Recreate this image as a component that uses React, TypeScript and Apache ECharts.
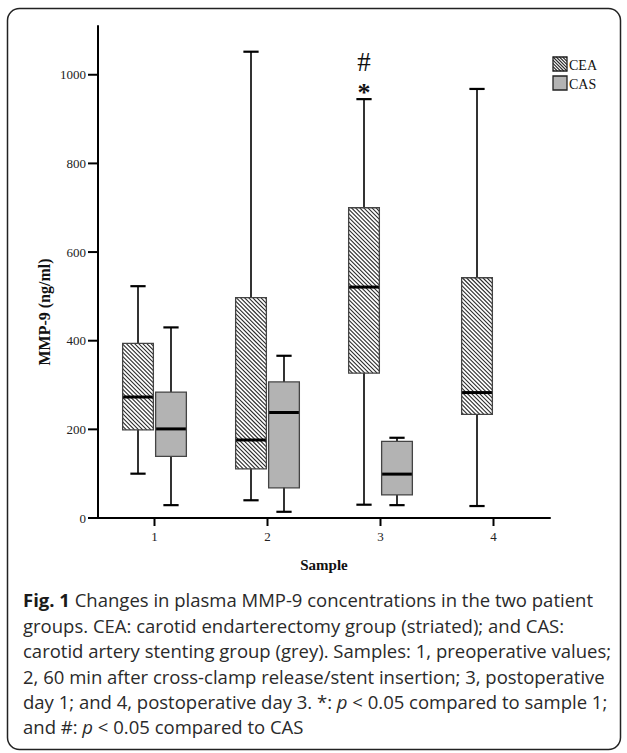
import React, { useEffect, useRef } from "react";
import * as echarts from "echarts";

// ---- data ----
const categories = ["1", "2", "3", "4"];
// each box: [lower whisker, Q1, median, Q3, upper whisker]
const ceaBoxes = [
  [100, 199, 273, 394, 523],
  [40, 111, 176, 497, 1052],
  [30, 327, 521, 700, 945],
  [27, 234, 283, 542, 968],
];
const casBoxes = [
  [29, 139, 201, 284, 430],
  [14, 68, 238, 307, 366],
  [29, 52, 99, 173, 181],
];
const yTicks = [0, 200, 400, 600, 800, 1000];
const yMax = 1110;
const legendNames = ["CEA", "CAS"];
const annotationCategory = [2, 2];
const annotationValue = [945, 945];
const annotationText = ["*", "#"];
const yAxisName = "MMP-9 (ng/ml)";
const xAxisName = "Sample";
const captionLines = [
  "{b|Fig. 1} Changes in plasma MMP-9 concentrations in the two patient",
  "groups. CEA: carotid endarterectomy group (striated); and CAS:",
  "carotid artery stenting group (grey). Samples: 1, preoperative values;",
  "2, 60 min after cross-clamp release/stent insertion; 3, postoperative",
  "day 1; and 4, postoperative day 3. *: {i|p} < 0.05 compared to sample 1;",
  "and #: {i|p} < 0.05 compared to CAS",
];

// ---- styles ----
const SERIF = "'Liberation Serif', 'Times New Roman', serif";
const SANS = "'Open Sans', 'Noto Sans', sans-serif";
const BOX_W = 0.272;
const CAP_W = 0.135;
const OFF = 0.146;
const HATCH_STEP = 4.1;
const GREY = "#b3b3b3";
const EDGE = "#444";
const CAPTION_SIZE = 18.5;
const CAPTION_LH = 25.4;
const Y_TICK_LEN = 10;
const X_TICK_LEN = 8;
const AXIS_W = 2;

function hatchLines(x0: number, y0: number, x1: number, y1: number, step: number) {
  const out: any[] = [];
  const cStart = Math.ceil((y0 - x1) / step) * step;
  for (let c = cStart; c <= y1 - x0; c += step) {
    const xa = Math.max(x0, y0 - c);
    const xb = Math.min(x1, y1 - c);
    if (xb - xa < 0.4) continue;
    out.push({
      type: "line",
      shape: { x1: xa, y1: xa + c, x2: xb, y2: xb + c },
      style: { stroke: "#2a2a2a", lineWidth: 1.1 },
      silent: true,
    });
  }
  return out;
}

function boxRenderer(side: number, hatched: boolean) {
  return (params: any, api: any) => {
    const cat = api.value(0);
    const vals = [1, 2, 3, 4, 5].map((i) => api.value(i));
    const band = api.size([1, 0])[0];
    const cx = api.coord([cat, 0])[0] + side * band * OFF;
    const [yLow, yQ1, yMed, yQ3, yHigh] = vals.map((v) => api.coord([cat, v])[1]);
    const w = band * BOX_W;
    const cw = band * CAP_W;
    const x0 = cx - w / 2;
    const x1 = cx + w / 2;
    const children: any[] = [
      { type: "line", shape: { x1: cx, y1: yHigh, x2: cx, y2: yLow }, style: { stroke: "#000", lineWidth: 1.6 } },
      { type: "rect", shape: { x: x0, y: yQ3, width: w, height: yQ1 - yQ3 }, style: { fill: hatched ? "#fff" : GREY } },
    ];
    if (hatched) children.push(...hatchLines(x0, yQ3, x1, yQ1, HATCH_STEP));
    children.push(
      { type: "rect", shape: { x: x0, y: yQ3, width: w, height: yQ1 - yQ3 }, style: { fill: "none", stroke: EDGE, lineWidth: 1.3 } },
      { type: "line", shape: { x1: x0 + 0.5, y1: yMed, x2: x1 - 0.5, y2: yMed }, style: { stroke: "#000", lineWidth: 3 } },
      { type: "line", shape: { x1: cx - cw / 2, y1: yHigh, x2: cx + cw / 2, y2: yHigh }, style: { stroke: "#000", lineWidth: 2.2 } },
      { type: "line", shape: { x1: cx - cw / 2, y1: yLow, x2: cx + cw / 2, y2: yLow }, style: { stroke: "#000", lineWidth: 2.2 } }
    );
    return { type: "group", children };
  };
}

function annotationRenderer(params: any, api: any) {
  const i = params.dataIndex;
  const band = api.size([1, 0])[0];
  const p = api.coord([api.value(0), api.value(1)]);
  const x = p[0] - band * OFF;
  const isStar = annotationText[i] === "*";
  return {
    type: "text",
    x,
    y: isStar ? p[1] + 6 : p[1] - 24,
    style: {
      text: annotationText[i],
      align: "center",
      verticalAlign: "bottom",
      font: isStar ? `bold 26px ${SERIF}` : `27px ${SERIF}`,
      fill: "#111",
    },
  };
}

function legendGraphic() {
  const x = 553;
  const y0 = 57;
  const size = 14;
  const gap = 19;
  const children: any[] = [];
  legendNames.forEach((name, i) => {
    const y = y0 + i * gap;
    children.push({ type: "rect", shape: { x, y, width: size, height: size }, style: { fill: i === 0 ? "#fff" : GREY } });
    if (i === 0) children.push(...hatchLines(x, y, x + size, y + size, 3.2));
    children.push({ type: "rect", shape: { x, y, width: size, height: size }, style: { fill: "none", stroke: "#222", lineWidth: 1.3 } });
    children.push({
      type: "text",
      x: x + size + 2,
      y: y + size / 2 + 1,
      style: { text: name, font: `14px ${SERIF}`, fill: "#111", verticalAlign: "middle", align: "left" },
    });
  });
  return { type: "group", children };
}

export default function App() {
  const ref = useRef<HTMLDivElement>(null);

  useEffect(() => {
    const el = ref.current;
    if (!el) return;
    const chart = echarts.init(el, null, { renderer: "svg" });
    const baseGraphic: any[] = [
      {
        type: "rect",
        shape: { x: 7.5, y: 8.5, width: 613, height: 741, r: 12 },
        style: { fill: "none", stroke: "#222", lineWidth: 1.5 },
        z: 0,
      },
      legendGraphic(),
      {
        type: "text",
        x: 44,
        y: 312,
        rotation: Math.PI / 2,
        style: {
          text: yAxisName,
          font: `bold 16px ${SERIF}`,
          fill: "#111",
          align: "center",
          verticalAlign: "middle",
        },
      },
      {
        type: "text",
        x: 23,
        y: 600 - CAPTION_LH / 2,
        style: {
          text: captionLines.join("\n"),
          font: `${CAPTION_SIZE}px ${SANS}`,
          fill: "#2a2a2a",
          lineHeight: CAPTION_LH,
          rich: {
            b: { fontWeight: "bold", fontSize: CAPTION_SIZE, fontFamily: SANS, fill: "#1a1a1a", lineHeight: CAPTION_LH },
            i: { fontStyle: "italic", fontSize: CAPTION_SIZE, fontFamily: SANS, fill: "#2a2a2a", lineHeight: CAPTION_LH },
          },
        },
      },
    ];
    const option: any = {
      animation: false,
      backgroundColor: "#fff",
      grid: { left: 98, right: 77, top: 26, bottom: 235, containLabel: false },
      xAxis: {
        type: "category",
        data: categories,
        boundaryGap: true,
        name: xAxisName,
        nameLocation: "middle",
        nameGap: 39,
        nameTextStyle: { fontFamily: SERIF, fontWeight: "bold", fontSize: 15, color: "#111" },
        axisLine: { show: true, lineStyle: { color: "#000", width: AXIS_W } },
        axisTick: { show: false },
        axisLabel: { show: true, fontFamily: SERIF, fontSize: 13, color: "#222", margin: 12 },
        splitLine: { show: false },
      },
      yAxis: {
        type: "value",
        min: 0,
        max: yMax,
        axisLine: { show: true, lineStyle: { color: "#000", width: AXIS_W } },
        axisTick: { show: false },
        axisLabel: {
          show: true,
          fontFamily: SERIF,
          fontSize: 13,
          color: "#222",
          margin: 12,
          customValues: yTicks,
          formatter: (v: number) => String(v),
        },
        splitLine: { show: false },
      },
      series: [
        {
          type: "custom",
          name: "CEA",
          clip: false,
          renderItem: boxRenderer(-1, true),
          encode: { x: 0, y: [1, 2, 3, 4, 5] },
          data: ceaBoxes.map((b, i) => [i, ...b]),
        },
        {
          type: "custom",
          name: "CAS",
          clip: false,
          renderItem: boxRenderer(1, false),
          encode: { x: 0, y: [1, 2, 3, 4, 5] },
          data: casBoxes.map((b, i) => [i, ...b]),
        },
        {
          type: "custom",
          name: "annotations",
          clip: false,
          renderItem: annotationRenderer,
          encode: { x: 0, y: 1 },
          data: annotationCategory.map((c, i) => [c, annotationValue[i]]),
        },
      ],
      graphic: baseGraphic,
    };
    chart.setOption(option);

    // axis ticks positioned through the chart's own scales
    const c0 = chart.convertToPixel({ xAxisIndex: 0 }, 0) as number;
    const c1 = chart.convertToPixel({ xAxisIndex: 0 }, 1) as number;
    const band = c1 - c0;
    const axisX = c0 - band / 2;
    const axisY = chart.convertToPixel({ yAxisIndex: 0 }, 0) as number;
    const tickStyle = { stroke: "#000", lineWidth: 2 };
    const tickGraphics: any[] = [];
    yTicks.forEach((v) => {
      const y = chart.convertToPixel({ yAxisIndex: 0 }, v) as number;
      tickGraphics.push({ type: "line", shape: { x1: axisX - Y_TICK_LEN, y1: y, x2: axisX, y2: y }, style: tickStyle, z: 10 });
    });
    categories.forEach((c, i) => {
      const x = chart.convertToPixel({ xAxisIndex: 0 }, i) as number;
      tickGraphics.push({ type: "line", shape: { x1: x, y1: axisY, x2: x, y2: axisY + X_TICK_LEN }, style: tickStyle, z: 10 });
    });
    chart.setOption({ ...option, graphic: [...baseGraphic, ...tickGraphics] }, true);

    return () => chart.dispose();
  }, []);

  return (
    <div
      ref={ref}
      style={{ position: "absolute", left: 0, top: 0, width: 627, height: 753, background: "#fff" }}
    />
  );
}
